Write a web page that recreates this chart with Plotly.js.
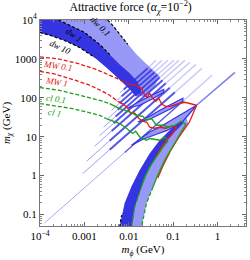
<!DOCTYPE html>
<html><head><meta charset="utf-8">
<script src="https://cdn.plot.ly/plotly-3.0.1.min.js"></script>
<style>body{margin:0;padding:0;background:#fff}#chart{width:250px;height:260px}</style>
</head><body><div id="chart"></div>
<script>
// ---- axis ticks ----
const xTickVals=[1e-4,1e-3,1e-2,1e-1,1];
const xTickText=['10<sup>−4</sup>','0.001','0.01','0.1','1'];
const yTickVals=[0.1,1,10,100,1000,1e4];
const yTickText=['0.1','1','10','100','1000','10<sup>4</sup>'];

// ---- classical band (m_phi, m_chi) ----
const lightBandX=[9e-5,3.17e-3,3.34e-3,4.56e-3,6.57e-3,9.44e-3,1.43e-2,2.17e-2,3.29e-2,4.98e-2,3.84e-2,2.41e-2,1.43e-2,1.048e-2,6.23e-3,3.34e-3,1.70e-3,7.79e-4,3.57e-4,1.73e-4,9e-5];
const lightBandY=[1.75e4,1.75e4,1e4,6.81e3,4.01e3,2.36e3,1.38e3,863,538,356,197,109,109,165,298,570,1.09e3,1.97e3,2.98e3,4.01e3,4.78e3];
const darkBandX=[9e-5,2.36e-4,2.62e-4,4.88e-4,1.01e-3,2.20e-3,3.71e-3,6.23e-3,1.048e-2,1.59e-2,1.95e-2,1.43e-2,1.048e-2,6.23e-3,3.34e-3,1.70e-3,7.79e-4,3.57e-4,1.73e-4,9e-5];
const darkBandY=[1.75e4,1.75e4,1e4,7.23e3,4.78e3,2.36e3,1.30e3,723,425,250,138,109,165,298,570,1.09e3,1.97e3,2.98e3,4.01e3,4.78e3];

// ---- resonance stripes: start, thickening point, exit from band, faint tip ----
const stripeX0=[1.26e-4,9.11e-4,1.12e-3,1.70e-3,2.20e-3,2.71e-3,3.34e-3,4.11e-3,5.06e-3,6.23e-3];
const stripeY0=[0.0605,1.125,2.35,5.70,10.7,17.7,29.3,48.4,81.3,133];
const stripeXm=[8.08e-3,3.71e-3,3.71e-3,4.11e-3,4.56e-3,5.06e-3,5.62e-3,6.23e-3,6.92e-3,7.67e-3];
const stripeYm=[3.94,4.64,7.89,14.0,22.2,33.2,49.2,73.6,110,164];
const stripeXe=[0.165,0.109,8.38e-2,6.81e-2,5.77e-2,4.98e-2,4.38e-2,3.80e-2,3.29e-2,2.67e-2];
const stripeYe=[81.8,138,182,237,284,332,389,456,528,574];
const stripeX1=[0.743,0.442,0.324,0.237,0.183,0.134,0.103,7.55e-2,5.53e-2,4.05e-2];
const stripeY1=[378,570,723,813,916,916,916,916,916,916];

// ---- Born-regime tongue ----
const tongueLightX=[6.07e-3,6.23e-3,8.08e-3,1.145e-2,1.76e-2,2.96e-2,4.98e-2,9.96e-2,0.141,0.192,0.217,0.129,8.38e-2,5.45e-2,3.52e-2,2.50e-2,1.93e-2,1.86e-2];
const tongueLightY=[0.0356,0.0486,0.194,0.516,1.38,3.71,8.13,17.8,26.5,33.6,21.8,9.88,4.51,1.68,0.516,0.194,0.0486,0.0356];
const tongueDarkX=[6.07e-3,6.23e-3,8.08e-3,1.145e-2,1.76e-2,2.96e-2,4.98e-2,9.96e-2,0.141,0.173,0.167,9.96e-2,4.98e-2,2.96e-2,1.93e-2,1.36e-2,1.145e-2,1.132e-2];
const tongueDarkY=[0.0356,0.0486,0.194,0.516,1.38,3.71,8.13,17.8,26.5,25.0,21.8,12.1,4.51,1.68,0.516,0.158,0.0486,0.0356];

// ---- resonance wedges ----
const wedgeAX=[1.145e-2,2.09e-2,4.20e-2,7.06e-2,0.109,0.165,0.237,0.336,0.217,0.141,9.16e-2,4.98e-2,2.96e-2,1.76e-2,1.145e-2];
const wedgeAY=[6.05,8.63,11.6,14.3,18.6,25.0,40.1,64.2,47.8,35.6,26.5,17.8,13.3,8.63,6.05];
const wedgeBX=[1.59e-2,2.96e-2,4.98e-2,9.30e-2,0.165,0.165,9.30e-2,4.98e-2,2.96e-2,1.59e-2];
const wedgeBY=[24.0,33.6,47.8,68.1,97.1,81.3,53.8,37.8,28.1,24.0];
const wedgeCX=[9.44e-3,1.76e-2,3.29e-2,6.13e-2,6.13e-2,3.29e-2,1.76e-2,9.44e-3];
const wedgeCY=[53.8,81.3,116,165,138,91.6,64.2,53.8];
const tipLineX=[0.336,2.46];
const tipLineY=[64.2,451];

// ---- contour lines ----
const dw10X=[1e-4,1.73e-4,3.57e-4,7.79e-4,1.70e-3];
const dw10Y=[4.78e3,4.01e3,2.98e3,1.97e3,1.09e3];
const dw1X=[2.62e-4,4.88e-4,1.01e-3,2.20e-3,3.71e-3];
const dw1Y=[1e4,7.23e3,4.78e3,2.36e3,1.30e3];
const dw01X=[3.34e-3,4.56e-3,6.57e-3,9.44e-3];
const dw01Y=[1e4,6.81e3,4.01e3,2.36e3];
const dw10BornX=[6.07e-3,6.23e-3,6.92e-3];
const dw10BornY=[0.0356,0.0486,0.097];

const mw01DashX=[1e-4,2.48e-4,7.02e-4,1.70e-3,4.81e-3,9.44e-3];
const mw01DashY=[1.125e3,1.01e3,767,554,336,228];
const mw01X=[9.44e-3,1.43e-2,1.95e-2,2.17e-2,2.54e-2,2.96e-2,3.46e-2,4.05e-2,4.73e-2,5.53e-2,6.81e-2,8.83e-2,0.115,0.183,0.336,0.277,0.231,0.173,0.134,8.83e-2,5.82e-2,4.49e-2];
const mw01Y=[228,209,175,130,103,130,97.1,81.3,97.1,68.1,60.5,60.5,68.1,76.7,64.2,40.1,23.5,14.7,9.71,4.51,1.75,0.863];
const mw1DashX=[1e-4,2.12e-4,4.88e-4,1.18e-3,2.32e-3,3.71e-3,5.62e-3];
const mw1DashY=[478,412,307,222,156,116,81.3];
const mw1X=[5.62e-3,7.67e-3,9.44e-3,1.10e-2,1.36e-2,1.67e-2,2.06e-2,2.54e-2,2.96e-2,3.84e-2,4.98e-2,6.81e-2,9.30e-2,0.1205,9.30e-2,6.81e-2,4.98e-2,4.05e-2];
const mw1Y=[81.3,68.1,53.8,40.1,40.1,29.8,25.0,23.5,17.5,16.5,17.5,16.5,18.6,17.5,11.6,8.13,4.51,2.98];

const cl01DashX=[1e-4,2.75e-4,7.79e-4,2.20e-3,3.71e-3];
const cl01DashY=[183,156,116,86.3,71.0];
const cl01X=[3.71e-3,6.23e-3,1.048e-2,1.48e-2,2.09e-2,2.50e-2,3.24e-2,4.20e-2,5.92e-2,7.67e-2,0.109,0.149,0.192,0.141,9.30e-2,6.46e-2,4.49e-2,3.52e-2];
const cl01Y=[71.0,52.8,43.2,35.6,33.6,26.5,29.3,19.7,19.7,17.8,19.7,25.0,20.9,11.6,5.07,2.50,1.03,0.516];
const cl01BornX=[3.52e-2,2.50e-2,1.93e-2,1.86e-2];
const cl01BornY=[0.516,0.194,0.0486,0.0356];
const cl1DashX=[1e-4,5.42e-4,2.20e-3,3.12e-3];
const cl1DashY=[71.0,52.8,35.6,29.3];
const cl1X=[3.12e-3,6.23e-3,8.83e-3,1.22e-2,1.43e-2,1.76e-2,2.50e-2,2.96e-2,4.98e-2,6.46e-2,7.55e-2,6.13e-2,4.27e-2,2.96e-2,2.29e-2,1.93e-2];
const cl1Y=[29.3,21.8,16.5,12.1,13.8,9.88,8.13,9.0,8.13,9.88,7.67,5.70,3.16,1.65,0.916,0.516];
const cl1BornX=[1.93e-2,1.36e-2,1.145e-2,1.132e-2];
const cl1BornY=[0.516,0.158,0.0486,0.0356];

// ---- labels ----
const labelText=['dw 0.1','dw 1','dw 10','MW 0.1','MW 1','cl 0.1','cl 1'];
const labelX=[2.20e-3,5.71e-4,2.75e-4,2.48e-4,2.36e-4,2.25e-4,2.12e-4];
const labelY=[6.81e3,4.01e3,1.97e3,642,250,91.6,40.1];
const labelAngle=[45,35,25,8,10,8,10];
const labelColor=['#000','#000','#000','#e01818','#e01818','#18a018','#18a018'];

const DARK='rgb(52,52,224)', LIGHT='rgb(152,152,246)', RED='#e41a1a', GREEN='#1aa01a';
const traces=[];
function poly(x,y,color,lineColor,lw){traces.push({x:x,y:y,type:'scatter',mode:'lines',fill:'toself',fillcolor:color,line:{color:lineColor||color,width:lw||0},hoverinfo:'skip',showlegend:false});}
function line(x,y,color,w,dash){traces.push({x:x,y:y,type:'scatter',mode:'lines',line:{color:color,width:w,dash:dash||'solid'},hoverinfo:'skip',showlegend:false});}

poly(lightBandX,lightBandY,LIGHT);
for(let i=0;i<stripeX0.length;i++){
  line([stripeX0[i],stripeXm[i]],[stripeY0[i],stripeYm[i]], i===0?'rgba(130,130,242,0.7)':'rgba(95,95,236,0.6)', 1);
  line([stripeXm[i],stripeXe[i]],[stripeYm[i],stripeYe[i]], 'rgba(55,55,224,0.85)', i===0?1.3:2);
  line([stripeXe[i],stripeX1[i]],[stripeYe[i],stripeY1[i]], 'rgba(110,110,240,0.35)', 1.5);
}
poly(darkBandX,darkBandY,DARK);
poly(tongueLightX,tongueLightY,LIGHT);
poly(tongueDarkX,tongueDarkY,DARK);
poly(wedgeCX,wedgeCY,LIGHT,DARK,1.2);
poly(wedgeBX,wedgeBY,LIGHT,DARK,1.2);
poly(wedgeAX,wedgeAY,LIGHT,DARK,1.2);
line(tipLineX,tipLineY,'rgba(70,70,230,0.7)',1.5);

line(dw10X,dw10Y,'#000',1.2,'3px,2px');
line(dw1X,dw1Y,'#000',1.2,'3px,2px');
line(dw01X,dw01Y,'#000',1.2,'3px,2px');
line(dw10BornX,dw10BornY,'#000',1.2,'3px,2px');
line(mw01DashX,mw01DashY,RED,1.3,'4px,2px');
line(mw01X,mw01Y,RED,1.3);
line(mw1DashX,mw1DashY,RED,1.3,'4px,2px');
line(mw1X,mw1Y,RED,1.3);
line(cl01DashX,cl01DashY,GREEN,1.3,'4px,2px');
line(cl01X,cl01Y,GREEN,1.3);
line(cl01BornX,cl01BornY,GREEN,1.3,'4px,2px');
line(cl1DashX,cl1DashY,GREEN,1.3,'4px,2px');
line(cl1X,cl1Y,GREEN,1.3);
line(cl1BornX,cl1BornY,GREEN,1.3,'4px,2px');

const annotations=labelText.map((t,i)=>({x:Math.log10(labelX[i]),y:Math.log10(labelY[i]),xref:'x',yref:'y',text:'<i>'+t+'</i>',showarrow:false,textangle:labelAngle[i],font:{family:'Liberation Serif, serif',size:9,color:labelColor[i]}}));

const minorX=[],minorY=[];
for(let e=-4;e<=0;e++){for(let k=2;k<=9;k++){minorX.push(k*Math.pow(10,e));}}
for(let e=-2;e<=3;e++){for(let k=2;k<=9;k++){minorY.push(k*Math.pow(10,e));}}

const FONT='Liberation Serif, Times New Roman, serif';
const layout={
  width:250,height:260,
  margin:{l:40,r:4,t:20,b:34},
  paper_bgcolor:'#fff',plot_bgcolor:'#fff',
  font:{family:FONT,size:11,color:'#000'},
  title:{text:'Attractive force (<i>α</i><sub><i>χ</i></sub>=10<sup>−2</sup>)',font:{family:FONT,size:11.8},xref:'paper',x:0.44,xanchor:'center',yref:'container',y:0.972,yanchor:'middle'},
  xaxis:{type:'log',range:[-4,0.639],tickmode:'array',tickvals:xTickVals,ticktext:xTickText,ticks:'inside',ticklen:4,tickcolor:'#666',
    showline:true,linecolor:'#777',linewidth:1,mirror:'allticks',showgrid:false,zeroline:false,
    minor:{tickmode:'array',tickvals:minorX,ticks:'inside',ticklen:2,tickcolor:'#888',showgrid:false},
    tickfont:{family:FONT,size:11},title:{text:'<i>m</i><sub><i>ϕ</i></sub> (GeV)',font:{family:FONT,size:11},standoff:4}},
  yaxis:{type:'log',range:[-1.295,4],tickmode:'array',tickvals:yTickVals,ticktext:yTickText,ticks:'inside',ticklen:4,tickcolor:'#666',
    showline:true,linecolor:'#777',linewidth:1,mirror:'allticks',showgrid:false,zeroline:false,
    minor:{tickmode:'array',tickvals:minorY,ticks:'inside',ticklen:2,tickcolor:'#888',showgrid:false},
    tickfont:{family:FONT,size:11},title:{text:'<i>m</i><sub><i>χ</i></sub> (GeV)',font:{family:FONT,size:11},standoff:2}},
  annotations:annotations,
  showlegend:false
};
Plotly.newPlot('chart',traces,layout,{staticPlot:true,displayModeBar:false});
</script></body></html>
